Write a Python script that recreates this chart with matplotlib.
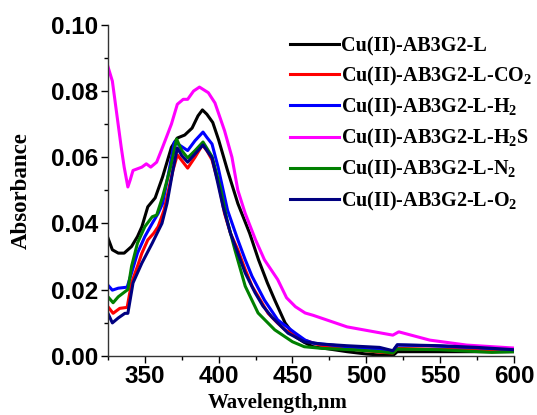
import matplotlib
matplotlib.use('Agg')
import matplotlib.pyplot as plt
from matplotlib.ticker import MultipleLocator

# spectra
black_wl = [325, 328, 332, 336, 341, 345, 348, 352, 357, 362, 368, 372, 377, 382, 386, 389,
            392, 396, 400, 406, 413, 421, 427, 433, 438, 445, 452, 458, 464, 475, 487, 500,
            509, 518, 521, 540, 560, 580, 600]
black_abs = [0.0356, 0.032, 0.031, 0.031, 0.033, 0.036, 0.039, 0.045, 0.0477, 0.054, 0.063,
             0.0658, 0.0667, 0.0688, 0.0725, 0.0743, 0.073, 0.0705, 0.0652, 0.056, 0.046,
             0.037, 0.029, 0.022, 0.0168, 0.0099, 0.0057, 0.004, 0.0027, 0.002, 0.0012,
             0.0005, 0.0002, 0.0, 0.0012, 0.0012, 0.0012, 0.0012, 0.0012]

red_wl = [325, 328.5, 333, 338, 341, 345, 348, 352, 356, 359, 363, 366, 369, 372, 375, 379,
          384, 389, 392, 395.5, 400, 404, 408, 413, 418, 422.6, 428, 433.5, 440, 445, 452,
          458, 470, 485, 500, 510, 518, 521, 540, 560, 580, 600]
red_abs = [0.0148, 0.0128, 0.0143, 0.0146, 0.022, 0.027, 0.031, 0.035, 0.037, 0.039, 0.044,
           0.050, 0.056, 0.0607, 0.059, 0.0567, 0.060, 0.0637, 0.062, 0.0592, 0.052, 0.043,
           0.037, 0.032, 0.026, 0.021, 0.017, 0.0128, 0.0098, 0.0078, 0.006, 0.0047, 0.003,
           0.0022, 0.0015, 0.001, 0.0008, 0.0022, 0.002, 0.002, 0.0018, 0.0018]

blue_wl = [325, 328, 332, 338, 341, 345, 350, 355, 359, 362, 366, 370, 374, 379, 384, 389.4,
           392, 395.5, 399.6, 406, 413, 418, 422.6, 431, 440, 452, 458.6, 464, 487, 509, 518,
           521, 543, 570, 600]
blue_abs = [0.0213, 0.0198, 0.0204, 0.0207, 0.025, 0.031, 0.036, 0.040, 0.043, 0.046, 0.055,
            0.0646, 0.0635, 0.062, 0.065, 0.0676, 0.066, 0.064, 0.057, 0.044, 0.035, 0.029,
            0.024, 0.0168, 0.0108, 0.0068, 0.0047, 0.0038, 0.0027, 0.002, 0.0012, 0.0032,
            0.003, 0.0025, 0.0018]

mag_wl = [325, 328, 331, 334, 336, 338.5, 340, 342, 345, 348, 351, 354, 358, 362, 368, 372,
          376, 379, 383, 387, 393, 397.5, 404, 409, 413, 418, 425, 431, 440, 446, 452, 458.6,
          464, 487, 518, 522, 543, 568, 600]
mag_abs = [0.0874, 0.083, 0.073, 0.063, 0.057, 0.051, 0.053, 0.056, 0.0565, 0.057, 0.058,
           0.057, 0.0585, 0.063, 0.070, 0.076, 0.0775, 0.0775, 0.080, 0.0812, 0.0795, 0.0764,
           0.068, 0.060, 0.050, 0.043, 0.035, 0.029, 0.023, 0.0175, 0.0148, 0.0129, 0.0122,
           0.0087, 0.0062, 0.0072, 0.0047, 0.0032, 0.0023]

green_wl = [325, 328.5, 332, 338.5, 341, 345, 350, 355, 358, 362, 368, 371.5, 375, 379, 384,
            389.4, 395.5, 401, 405.7, 411, 418, 426.7, 438, 450, 458, 470, 490, 510, 518,
            521, 550, 585, 600]
green_abs = [0.0178, 0.016, 0.0178, 0.020, 0.027, 0.034, 0.039, 0.042, 0.0425, 0.048, 0.058,
             0.0655, 0.062, 0.0598, 0.062, 0.0646, 0.0602, 0.051, 0.041, 0.032, 0.021, 0.0129,
             0.0078, 0.0042, 0.0027, 0.0022, 0.0018, 0.0012, 0.0008, 0.002, 0.0018, 0.001,
             0.0012]

navy_wl = [325, 328, 332, 336.5, 338.5, 342, 348, 355, 361.6, 365, 369, 372, 375, 379, 384,
           389.4, 395.5, 399, 403, 408, 413, 418, 424.7, 430, 436, 447, 458, 470, 487, 509,
           518, 521, 550, 575, 600]
navy_abs = [0.0128, 0.0099, 0.0114, 0.0128, 0.0128, 0.022, 0.028, 0.034, 0.040, 0.046, 0.056,
            0.0628, 0.0605, 0.0585, 0.061, 0.0637, 0.0598, 0.053, 0.045, 0.037, 0.031, 0.025,
            0.019, 0.015, 0.0117, 0.0068, 0.0042, 0.0035, 0.003, 0.0025, 0.0015, 0.0033,
            0.003, 0.0025, 0.0018]

labels = ['Cu(II)-AB3G2-L', 'Cu(II)-AB3G2-L-CO$_2$', 'Cu(II)-AB3G2-L-H$_2$',
          'Cu(II)-AB3G2-L-H$_2$S', 'Cu(II)-AB3G2-L-N$_2$', 'Cu(II)-AB3G2-L-O$_2$']
colors = ['black', '#ff0000', '#0000ff', '#ff00ff', '#008000', '#000080']

plt.rcParams['mathtext.fontset'] = 'custom'
plt.rcParams['mathtext.rm'] = 'Liberation Serif:bold'
plt.rcParams['mathtext.default'] = 'rm'

fig = plt.figure(figsize=(5.37, 4.15), dpi=100)
ax = fig.add_axes([0.201, 0.143, 0.756, 0.797])

series = [(black_wl, black_abs), (red_wl, red_abs), (blue_wl, blue_abs),
          (mag_wl, mag_abs), (green_wl, green_abs), (navy_wl, navy_abs)]
for (wl, ab), c, lab in zip(series, colors, labels):
    ax.plot(wl, ab, color=c, lw=2.2, label=lab, solid_joinstyle='round')

ax.set_xlim(325, 600)
ax.set_ylim(0, 0.10)
ax.xaxis.set_major_locator(MultipleLocator(50))
ax.xaxis.set_minor_locator(MultipleLocator(25))
ax.yaxis.set_major_locator(MultipleLocator(0.02))
ax.yaxis.set_minor_locator(MultipleLocator(0.01))
ax.yaxis.set_major_formatter(plt.FormatStrFormatter('%.2f'))
ax.set_xticks([350, 400, 450, 500, 550, 600])

for s in ['top', 'right']:
    ax.spines[s].set_visible(False)
for s in ['left', 'bottom']:
    ax.spines[s].set_linewidth(1.0)
    ax.spines[s].set_color('#333333')

ax.tick_params(which='major', direction='out', length=5, width=1, pad=2)
ax.tick_params(which='minor', direction='out', length=3, width=1)
for t in ax.get_xticklabels() + ax.get_yticklabels():
    t.set_fontfamily('Liberation Sans')
    t.set_fontweight('bold')
    t.set_fontsize(17.5)

ax.set_xlabel('Wavelength,nm', family='Liberation Serif', fontweight='bold', fontsize=15)
ax.set_ylabel('Absorbance', family='Liberation Serif', fontweight='bold', fontsize=16.5)
ax.xaxis.set_label_coords(0.417, -0.114)
ax.yaxis.set_label_coords(-0.188, 0.5)

leg = ax.legend(loc='upper left', bbox_to_anchor=(0.522, 0.937), bbox_transform=fig.transFigure,
                frameon=False, handlelength=2.4, handletextpad=0.1, labelspacing=0.41,
                borderpad=0, prop={'family': 'Liberation Serif', 'weight': 'bold', 'size': 14.5})

fig.savefig('out.png', dpi=100)
